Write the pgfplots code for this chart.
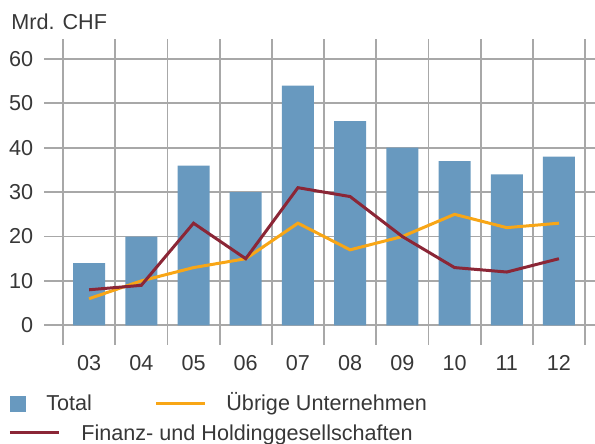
\documentclass[border=0pt]{standalone}
\usepackage{pgfplots}
\pgfplotsset{compat=1.18}
\usepackage{fontspec}
\setmainfont{Liberation Sans}
\definecolor{barblue}{RGB}{104,153,191}
\definecolor{lineorange}{RGB}{248,166,22}
\definecolor{linered}{RGB}{139,38,54}
\definecolor{txt}{RGB}{55,55,55}
\definecolor{gridc}{RGB}{168,168,168}
\begin{document}
\begin{tikzpicture}
\path[use as bounding box] (-22pt,-49.5pt) rectangle (275.5pt,172.5pt);
\begin{axis}[
  scale only axis,
  width=275.5pt, height=153pt,
  xmin=-0.864, xmax=9.69,
  ymin=-4.44, ymax=64.5,
  axis line style={draw=none},
  tick style={draw=none},
  major tick length=0pt, minor tick length=0pt,
  xtick={0,...,9},
  xticklabels={03,04,05,06,07,08,09,10,11,12},
  minor xtick={-0.5,0.5,...,9.5},
  xminorgrids=true, xmajorgrids=false,
  ytick={0,10,...,60},
  ymajorgrids=true,
  grid style={draw=gridc, line width=0.9pt},
  minor grid style={draw=gridc, line width=0.9pt},
  /pgf/number format/assume math mode=true,
  tick label style={font=\fontsize{10.8}{13}\selectfont, text=txt},
  xticklabel style={yshift=-1.7pt},
  yticklabel style={xshift=-1.9pt},
  clip=false,
]
\addplot[ybar, bar width=0.613, fill=barblue, draw=none, bar shift=0pt] coordinates {
  (0,14) (1,20) (2,36) (3,30) (4,54) (5,46) (6,40) (7,37) (8,34) (9,38)};
\addplot[lineorange, line width=1.5pt, mark=none] coordinates {
  (0,6) (1,10) (2,13) (3,15) (4,23) (5,17) (6,20) (7,25) (8,22) (9,23)};
\addplot[linered, line width=1.5pt, mark=none] coordinates {
  (0,8) (1,9) (2,23) (3,15) (4,31) (5,29) (6,20) (7,13) (8,12) (9,15)};
\end{axis}
\begin{scope}[font=\fontsize{10.8}{13}\selectfont, text=txt]
\node[anchor=base west, inner sep=0pt] at (-16.5pt,157.5pt) {Mrd. CHF};
\fill[barblue] (-17pt,-33.5pt) rectangle (-9pt,-25.5pt);
\node[anchor=base west, inner sep=0pt] at (1pt,-33pt) {Total};
\draw[lineorange, line width=1.5pt] (56pt,-29.2pt) -- (80.5pt,-29.2pt);
\node[anchor=base west, inner sep=0pt] at (91pt,-33pt) {Übrige Unternehmen};
\draw[linered, line width=1.5pt] (-17pt,-44pt) -- (7.5pt,-44pt);
\node[anchor=base west, inner sep=0pt] at (18.5pt,-48pt) {Finanz- und Holdinggesellschaften};
\end{scope}
\end{tikzpicture}
\end{document}
